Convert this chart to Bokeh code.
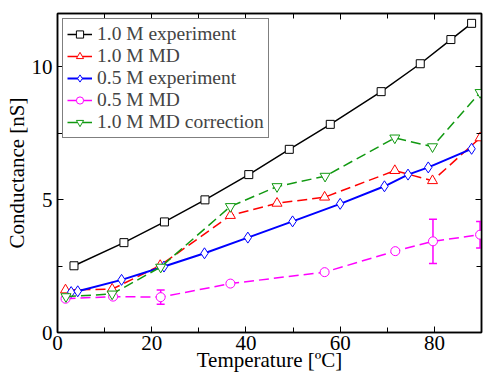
from bokeh.plotting import figure
from bokeh.models import (LinearAxis, Range1d, Legend, LegendItem, FixedTicker,
                          Whisker, ColumnDataSource, TeeHead, CustomLabelingPolicy)
from bokeh.embed import file_html
from bokeh.resources import INLINE

# ---- data ----
exp10_T = [3.5, 14.1, 22.7, 31.3, 40.6, 49.2, 57.9, 68.7, 77.0, 83.5, 87.9]
exp10_G = [2.51, 3.38, 4.16, 4.99, 5.94, 6.89, 7.83, 9.06, 10.11, 11.02, 11.63]

md10_T = [1.7, 11.6, 21.8, 36.7, 46.6, 56.7, 71.6, 79.6, 89.7]
md10_G = [1.60, 1.63, 2.52, 4.40, 4.86, 5.09, 6.09, 5.71, 7.32]

exp05_T = [2.9, 4.3, 13.6, 22.6, 31.2, 40.4, 49.9, 60.0, 69.4, 74.4, 78.7, 87.9]
exp05_G = [1.52, 1.55, 1.98, 2.48, 2.98, 3.57, 4.18, 4.84, 5.50, 5.94, 6.21, 6.91]

md05_T = [1.7, 11.8, 21.9, 36.7, 56.7, 71.7, 79.7, 89.7]
md05_G = [1.27, 1.35, 1.33, 1.84, 2.27, 3.06, 3.43, 3.68]
md05_err = [0.0, 0.0, 0.27, 0.0, 0.0, 0.0, 0.83, 0.50]

corr_T = [1.8, 11.6, 21.9, 36.7, 46.6, 56.8, 71.6, 79.6, 89.7]
corr_G = [1.35, 1.45, 2.46, 4.74, 5.49, 5.88, 7.32, 6.99, 9.03]

x_ticks = [0, 20, 40, 60, 80]
y_ticks = [0, 5, 10]
x_minor = [10, 30, 50, 70, 90]
y_minor = [2.5, 7.5]

FONT = "Liberation Serif"
FS = "21px"
GREEN = "#119911"

p = figure(frame_width=424, frame_height=319, output_backend="svg",
           toolbar_location=None, x_range=Range1d(0, 90), y_range=Range1d(0, 12),
           x_axis_label="Temperature [ºC]", y_axis_label="Conductance [nS]",
           min_border_left=57, min_border_right=4, min_border_top=13, min_border_bottom=40)
p.grid.visible = False
p.outline_line_color = "black"
p.outline_line_width = 1.5
p.background_fill_color = "white"
p.border_fill_color = "white"

hide_all = CustomLabelingPolicy(code="return new Set()")

def style_axis(ax, ticks, minor, labels=True):
    ax.ticker = FixedTicker(ticks=ticks, minor_ticks=minor)
    ax.major_tick_in = 6
    ax.major_tick_out = 0
    ax.minor_tick_in = 5
    ax.minor_tick_out = 0
    ax.axis_line_width = 1.5
    ax.major_tick_line_width = 1
    ax.minor_tick_line_width = 1
    ax.major_label_text_font = FONT
    ax.major_label_text_color = "black"
    ax.axis_label_text_font = FONT
    ax.axis_label_text_font_style = "normal"
    ax.axis_label_text_color = "black"
    if labels:
        ax.major_label_text_font_size = FS
        ax.axis_label_text_font_size = FS
        ax.major_label_standoff = 3
        ax.axis_label_standoff = 0
    else:
        ax.major_label_policy = hide_all
        ax.major_label_text_font_size = "1px"
        ax.major_label_standoff = 0

style_axis(p.xaxis[0], x_ticks, x_minor)
style_axis(p.yaxis[0], y_ticks, y_minor)
p.xaxis[0].axis_label_standoff = -5
p.yaxis[0].major_label_standoff = 5
p.yaxis[0].axis_label_standoff = 0

top = LinearAxis()
right = LinearAxis()
p.add_layout(top, "above")
p.add_layout(right, "right")
style_axis(top, x_ticks, x_minor, labels=False)
style_axis(right, y_ticks, y_minor, labels=False)

MS = 8
# 1.0 M experiment
l1 = p.line(exp10_T, exp10_G, line_color="black", line_width=1.5)
m1 = p.scatter(exp10_T, exp10_G, marker="square", size=MS, fill_color="white",
               line_color="black", line_width=1)
# 1.0 M MD
l2 = p.line(md10_T, md10_G, line_color="red", line_width=1.5, line_dash="10 5")
m2 = p.scatter(md10_T, md10_G, marker="triangle", size=MS + 2, fill_color="white",
               line_color="red", line_width=1)
# 0.5 M experiment
l3 = p.line(exp05_T, exp05_G, line_color="blue", line_width=2)
m3 = p.scatter(exp05_T, exp05_G, marker="diamond", size=MS + 3, fill_color="white",
               line_color="blue", line_width=1)
# 0.5 M MD
lo = [g - e for g, e in zip(md05_G, md05_err)]
hi = [g + e for g, e in zip(md05_G, md05_err)]
src = ColumnDataSource(dict(x=md05_T, lo=lo, hi=hi))
w = Whisker(source=src, base="x", lower="lo", upper="hi", line_color="magenta",
            line_width=1.5,
            upper_head=TeeHead(size=8, line_color="magenta", line_width=1.5),
            lower_head=TeeHead(size=8, line_color="magenta", line_width=1.5))
p.add_layout(w)
l4 = p.line(md05_T, md05_G, line_color="magenta", line_width=1.5, line_dash="10 5")
m4 = p.scatter(md05_T, md05_G, marker="circle", size=MS + 1, fill_color="white",
               line_color="magenta", line_width=1)
# correction
l5 = p.line(corr_T, corr_G, line_color=GREEN, line_width=1.5, line_dash="10 5")
m5 = p.scatter(corr_T, corr_G, marker="inverted_triangle", size=MS + 2,
               fill_color="white", line_color=GREEN, line_width=1)

legend = Legend(items=[
    LegendItem(label="1.0 M experiment", renderers=[l1, m1]),
    LegendItem(label="1.0 M MD", renderers=[l2, m2]),
    LegendItem(label="0.5 M experiment", renderers=[l3, m3]),
    LegendItem(label="0.5 M MD", renderers=[l4, m4]),
    LegendItem(label="1.0 M MD correction", renderers=[l5, m5]),
], location=(5, 194))
legend.label_text_font = FONT
legend.label_text_font_size = "19.5px"
legend.label_text_line_height = 1.0
legend.label_height = 18
legend.glyph_height = 18
legend.glyph_width = 25
legend.spacing = 0
legend.padding = 4
legend.margin = 0
legend.label_standoff = 5
legend.border_line_color = "black"
legend.border_line_width = 1.5
legend.background_fill_alpha = 1.0
p.add_layout(legend)

open("out.html", "w").write(file_html(p, INLINE))
